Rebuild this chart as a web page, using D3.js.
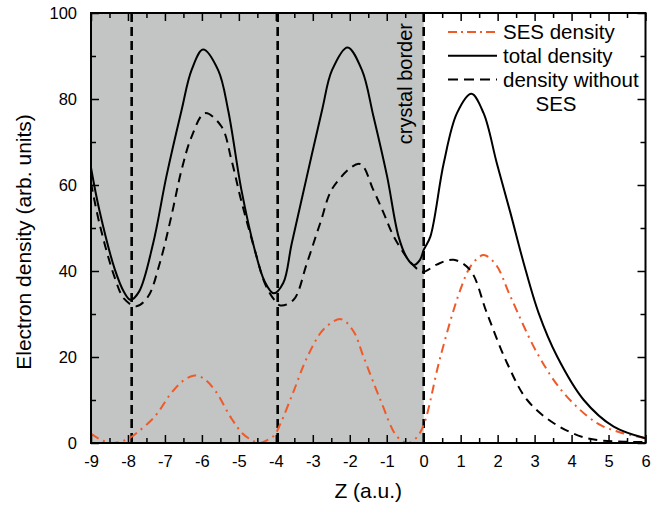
<!DOCTYPE html>
<html>
<head>
<meta charset="utf-8">
<script src="https://cdn.jsdelivr.net/npm/d3@7"></script>
<style>
  body { margin: 0; background: #fff; }
  text { font-family: "Liberation Sans", Arial, sans-serif; fill: #000; }
</style>
</head>
<body>
<div id="chart"></div>
<script>
// values, [z, density]
const totalDensity = [
  [-9, 64], [-8.77, 54], [-8.36, 40.5], [-8.1, 35], [-7.93, 33.3], [-7.7, 35.2],
  [-7.32, 46.4], [-6.96, 62], [-6.55, 77.4], [-6.28, 86.7], [-5.97, 91.5],
  [-5.56, 86.7], [-5.29, 77.4], [-4.93, 58.8], [-4.57, 44.9], [-4.3, 37.5],
  [-4.06, 34.8], [-3.8, 37.2], [-3.57, 46.4], [-3.16, 62], [-2.75, 77.4],
  [-2.48, 86.7], [-2.06, 92], [-1.67, 86.7], [-1.36, 76], [-0.99, 62],
  [-0.68, 48], [-0.45, 43], [-0.27, 41.4], [-0.1, 42.6], [0, 44.9], [0.18, 48],
  [0.54, 65], [0.9, 76.7], [1.29, 81.2], [1.62, 76.7], [1.98, 65], [2.35, 53.4],
  [2.7, 42], [3.11, 30.2], [3.61, 20.1], [4.33, 10], [5.14, 3.8], [6, 1.1]
];
const noSesDensity = [
  [-9, 60.5], [-8.77, 51], [-8.36, 38.5], [-8.1, 33.5], [-7.77, 31.8], [-7.46, 34],
  [-7.14, 41.8], [-6.83, 52.6], [-6.55, 63.5], [-6.28, 71.2], [-5.92, 76.7],
  [-5.47, 73.6], [-5.2, 65.8], [-4.94, 56.5], [-4.57, 44.9], [-4.3, 37.2],
  [-4.06, 33.5], [-3.88, 32], [-3.52, 33.3], [-3.16, 41.8], [-2.8, 51.1],
  [-2.44, 59.6], [-1.73, 64.9], [-1.36, 58.8], [-1.08, 53.4], [-0.81, 48],
  [-0.4, 42.5], [-0.15, 40.3], [0, 39.8], [0.35, 41.5], [0.81, 42.6], [1.26, 40.2],
  [1.71, 30.2], [2.26, 18.5], [2.8, 10], [3.52, 4.6], [4.42, 1.1], [5.5, 0.3], [6, 0.2]
];
const sesDensity = [
  [-9, 2.2], [-8.75, 0.8], [-8.45, 0], [-8.2, 0.3], [-7.95, 1.2], [-7.73, 2.6],
  [-7.28, 6.1], [-6.83, 11.6], [-6.5, 14.5], [-6.2, 15.7], [-5.95, 15],
  [-5.65, 12.3], [-5.2, 5.7], [-4.9, 2.2], [-4.66, 0.7], [-4.45, 0], [-4.2, 0.8],
  [-4.03, 1.9], [-3.88, 4.4], [-3.52, 12], [-3.16, 19.8], [-2.7, 26.5],
  [-2.24, 28.8], [-1.9, 26], [-1.63, 20.1], [-1.17, 10], [-0.72, 1.5],
  [-0.41, 0], [-0.2, 1.2], [0, 4.2], [0.45, 20], [0.99, 35.6], [1.3, 41.5],
  [1.62, 43.7], [1.95, 41.5], [2.35, 34], [3.07, 20.9], [3.79, 11.6],
  [4.69, 4.6], [5.3, 2.5], [6, 1.1]
];
const borderLines = [-7.9, -3.95, 0];
const crystalRange = [-9, 0];
const xTicks = d3.range(-9, 7, 1);
const yTicks = [0, 20, 40, 60, 80, 100];
const legendLabels = ["SES density", "total density", "density without"];

const W = 662, H = 507;
const margin = { top: 13, right: 16.5, bottom: 64, left: 91 };
const width = W - margin.left - margin.right,
  height = H - margin.top - margin.bottom;

const svg = d3.select("#chart").append("svg").attr("width", W).attr("height", H);
const g = svg.append("g").attr("transform", `translate(${margin.left},${margin.top})`);

const x = d3.scaleLinear().domain([-9, 6]).range([0, width]);
const y = d3.scaleLinear().domain([0, 100]).range([height, 0]);

g.append("clipPath").attr("id", "clip").append("rect").attr("width", width).attr("height", height);

// crystal region
g.append("rect")
  .attr("x", x(crystalRange[0])).attr("y", 0)
  .attr("width", x(crystalRange[1]) - x(crystalRange[0])).attr("height", height)
  .attr("fill", "#c3c4c4");

// vertical dashed lines
g.selectAll(".vline").data(borderLines).enter().append("line")
  .attr("x1", (d) => x(d)).attr("x2", (d) => x(d))
  .attr("y1", 0).attr("y2", height)
  .attr("stroke", "#000").attr("stroke-width", 2.6).attr("stroke-dasharray", "9,5");

g.append("text")
  .attr("transform", `translate(${x(0) - 12},10) rotate(-90)`)
  .attr("text-anchor", "end")
  .style("font-size", "20px")
  .text("crystal border");

const line = d3.line().x((d) => x(d[0])).y((d) => y(d[1])).curve(d3.curveCatmullRom.alpha(0.5));

const curves = g.append("g").attr("clip-path", "url(#clip)");
curves.append("path").datum(sesDensity).attr("d", line)
  .attr("fill", "none").attr("stroke", "#ef5a28").attr("stroke-width", 2)
  .attr("stroke-dasharray", "9,5,2,5");
curves.append("path").datum(noSesDensity).attr("d", line)
  .attr("fill", "none").attr("stroke", "#000").attr("stroke-width", 2)
  .attr("stroke-dasharray", "9,6");
curves.append("path").datum(totalDensity).attr("d", line)
  .attr("fill", "none").attr("stroke", "#000").attr("stroke-width", 2);

// axes, ticks pointing inward
const minorX = d3.range(-8.5, 6, 1);
const minorY = [10, 30, 50, 70, 90];

function styleAxis(sel) {
  sel.select(".domain").remove();
  sel.selectAll(".tick line").attr("stroke", "#000").attr("stroke-width", 1.5);
}

g.append("g").attr("transform", `translate(0,${height})`)
  .call(d3.axisBottom(x).tickValues(xTicks).tickSize(-8).tickPadding(12).tickFormat((d) => String(d)))
  .call(styleAxis)
  .selectAll("text").style("font-size", "16.5px").attr("font-family", null);
g.append("g").attr("transform", `translate(0,${height})`)
  .call(d3.axisBottom(x).tickValues(minorX).tickSize(-5).tickFormat(""))
  .call(styleAxis);
g.append("g")
  .call(d3.axisTop(x).tickValues(xTicks).tickSize(-8).tickFormat(""))
  .call(styleAxis);
g.append("g")
  .call(d3.axisTop(x).tickValues(minorX).tickSize(-5).tickFormat(""))
  .call(styleAxis);

g.append("g")
  .call(d3.axisLeft(y).tickValues(yTicks).tickSize(-8).tickPadding(14))
  .call(styleAxis)
  .selectAll("text").style("font-size", "16.5px").attr("font-family", null);
g.append("g")
  .call(d3.axisLeft(y).tickValues(minorY).tickSize(-5).tickFormat(""))
  .call(styleAxis);
g.append("g").attr("transform", `translate(${width},0)`)
  .call(d3.axisRight(y).tickValues(yTicks).tickSize(-8).tickFormat(""))
  .call(styleAxis);
g.append("g").attr("transform", `translate(${width},0)`)
  .call(d3.axisRight(y).tickValues(minorY).tickSize(-5).tickFormat(""))
  .call(styleAxis);

g.selectAll(".tick text").attr("fill", "#000");

g.append("rect").attr("width", width).attr("height", height)
  .attr("fill", "none").attr("stroke", "#000").attr("stroke-width", 2);

// axis titles
svg.append("text")
  .attr("x", margin.left + width / 2).attr("y", 498)
  .attr("text-anchor", "middle").style("font-size", "21px")
  .text("Z (a.u.)");
svg.append("text")
  .attr("transform", "translate(31,242) rotate(-90)")
  .attr("text-anchor", "middle").style("font-size", "21px")
  .text("Electron density (arb. units)");

// legend
const legend = svg.append("g").attr("transform", "translate(448,39)");
const legendStyles = [
  { color: "#ef5a28", dash: "9,4,2,4" },
  { color: "#000", dash: null },
  { color: "#000", dash: "10,6" },
];
legendLabels.forEach((label, i) => {
  const row = legend.append("g").attr("transform", `translate(0,${i * 23.8})`);
  row.append("line").attr("x1", 0).attr("x2", 49).attr("y1", -7).attr("y2", -7)
    .attr("stroke", legendStyles[i].color).attr("stroke-width", 2)
    .attr("stroke-dasharray", legendStyles[i].dash);
  row.append("text").attr("x", 55).attr("y", 0).style("font-size", "20.5px").text(label);
});
legend.append("text").attr("x", 108).attr("y", 72).attr("text-anchor", "middle")
  .style("font-size", "20.5px").text("SES");
</script>
</body>
</html>
